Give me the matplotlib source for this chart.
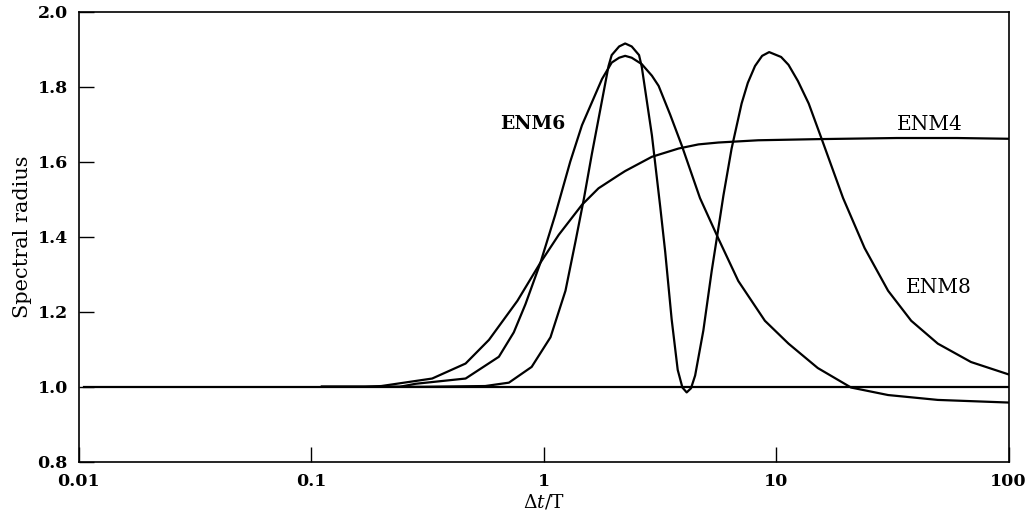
import matplotlib
matplotlib.use('Agg')
import matplotlib.pyplot as plt
from matplotlib.ticker import FixedLocator, FixedFormatter

plt.rcParams['font.family'] = ['DejaVu Serif']
plt.rcParams['mathtext.fontset'] = 'dejavuserif'

# values (x = dt/T, y = spectral radius)
enm4_x = [0.111, 0.17, 0.2, 0.331, 0.461, 0.581, 0.77, 0.968, 1.16, 1.46,
          1.72, 2.1, 2.24, 2.92, 3.8, 4.63, 5.64, 8.37, 15.0, 33.0, 60.0, 100.0]
enm4_y = [1.0, 1.0, 1.002, 1.022, 1.062, 1.125, 1.229, 1.331, 1.405, 1.485,
          1.529, 1.564, 1.575, 1.613, 1.635, 1.646, 1.651, 1.657, 1.660,
          1.663, 1.663, 1.661]

enm6_x = [0.111, 0.24, 0.281, 0.461, 0.641, 0.743, 0.834, 0.968, 1.12, 1.30,
          1.46, 1.78, 1.96, 2.11, 2.24, 2.39, 2.64, 2.92, 3.12, 3.5, 3.92,
          4.70, 5.64, 6.87, 8.94, 11.3, 15.1, 21.0, 30.3, 49.6, 100.0]
enm6_y = [1.0, 1.0, 1.008, 1.022, 1.08, 1.145, 1.22, 1.331, 1.458, 1.60,
          1.697, 1.820, 1.864, 1.877, 1.882, 1.877, 1.860, 1.829, 1.802,
          1.725, 1.644, 1.503, 1.395, 1.282, 1.176, 1.115, 1.05, 0.998,
          0.978, 0.965, 0.958]

enm8_x = [0.111, 0.3, 0.56, 0.708, 0.887, 1.069, 1.24, 1.37, 1.49, 1.61,
          1.70, 1.90, 1.96, 2.11, 2.24, 2.39, 2.57, 2.64, 2.92, 3.17, 3.33,
          3.55, 3.77, 3.95, 4.12, 4.3, 4.48, 4.86, 5.28, 5.73, 5.93, 6.43,
          7.10, 7.55, 8.11, 8.7, 9.33, 10.5, 11.3, 12.4, 13.8, 15.6, 19.4,
          24.0, 30.3, 38.1, 49.6, 68.9, 100.0]
enm8_y = [1.0, 1.0, 1.002, 1.011, 1.053, 1.132, 1.256, 1.388, 1.503, 1.62,
          1.697, 1.855, 1.884, 1.907, 1.915, 1.907, 1.884, 1.853, 1.67,
          1.48, 1.36, 1.18, 1.045, 0.998, 0.985, 0.996, 1.03, 1.15, 1.309,
          1.45, 1.51, 1.635, 1.755, 1.81, 1.855, 1.882, 1.892, 1.879, 1.858,
          1.815, 1.755, 1.665, 1.503, 1.37, 1.256, 1.176, 1.115, 1.066, 1.033]

ref_x = [0.0105, 100.0]
ref_y = [1.0, 1.0]

x_ticks = [0.01, 0.1, 1, 10, 100]
x_labels = ['0.01', '0.1', '1', '10', '100']
y_ticks = [0.8, 1.0, 1.2, 1.4, 1.6, 1.8, 2.0]
y_labels = ['0.8', '1.0', '1.2', '1.4', '1.6', '1.8', '2.0']

fig = plt.figure(figsize=(10.25, 5.26), dpi=100)
ax = fig.add_axes([0.077, 0.122, 0.907, 0.856])

lw = 1.6
ax.plot(ref_x, ref_y, color='black', lw=lw)
for xs, ys in [(enm4_x, enm4_y), (enm6_x, enm6_y), (enm8_x, enm8_y)]:
    ax.plot(xs, ys, color='black', lw=lw, solid_joinstyle='round')

ax.set_xscale('log')
ax.set_xlim(0.01, 100)
ax.set_ylim(0.8, 2.0)
ax.xaxis.set_major_locator(FixedLocator(x_ticks))
ax.xaxis.set_major_formatter(FixedFormatter(x_labels))
ax.xaxis.set_minor_locator(FixedLocator([]))
ax.yaxis.set_major_locator(FixedLocator(y_ticks))
ax.yaxis.set_major_formatter(FixedFormatter(y_labels))
ax.tick_params(direction='in', length=11, width=1.0, labelsize=12.5)
ax.tick_params(axis='x', pad=8)
ax.tick_params(axis='y', pad=8)
for lab in ax.get_xticklabels() + ax.get_yticklabels():
    lab.set_fontweight('bold')
for sp in ax.spines.values():
    sp.set_linewidth(1.2)

ax.set_xlabel(r'$\mathit{\Delta t}$/T', fontsize=13.5, labelpad=2)
ax.set_ylabel('Spectral radius', fontsize=15, labelpad=4)

ax.text(0.9, 1.70, 'ENM6', fontsize=13.5, fontweight='bold', ha='center', va='center')
ax.text(45.7, 1.70, 'ENM4', fontsize=14.5, ha='center', va='center')
ax.text(50, 1.265, 'ENM8', fontsize=14.5, ha='center', va='center')

fig.savefig('out.png', dpi=100)
